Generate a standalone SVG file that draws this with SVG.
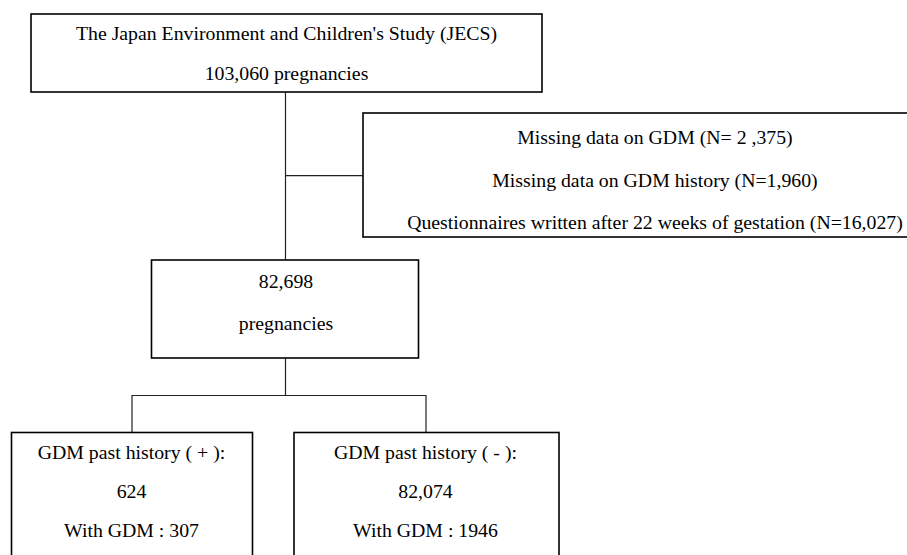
<svg xmlns="http://www.w3.org/2000/svg" width="907" height="555" viewBox="0 0 907 555">
<style>
.box{fill:#fff;stroke:#000;stroke-width:1.6}
.conn{fill:none;stroke:#222;stroke-width:1.2}
text{font-family:"Liberation Serif","Times New Roman","DejaVu Serif",serif;font-size:19.8px;fill:#000;text-anchor:middle}
</style>
<rect width="907" height="555" fill="#fff"/>
<g id="connectors">
<path class="conn" d="M285.5 92V260"/>
<path class="conn" d="M285.5 175.7H363"/>
<path class="conn" d="M285.5 358V395.5"/>
<path class="conn" d="M132 432V395.5H426V432"/>
</g>
<g font-family="Liberation Serif, Times New Roman, serif">
<g id="jecs">
<rect class="box" x="31" y="14" width="511" height="78"/>
<text x="286.5" y="40">The Japan Environment and Children's Study (JECS)</text>
<text x="286.5" y="80">103,060 pregnancies</text>
</g>
<g id="excluded">
<rect class="box" x="363" y="113" width="590" height="124"/>
<text x="655" y="144">Missing data on GDM (N= 2 ,375)</text>
<text x="655" y="187">Missing data on GDM history (N=1,960)</text>
<text x="655" y="229">Questionnaires written after 22 weeks of gestation (N=16,027)</text>
</g>
<g id="pregnancies">
<rect class="box" x="151.5" y="260" width="267" height="98"/>
<text x="286" y="288">82,698</text>
<text x="286" y="330">pregnancies</text>
</g>
<g id="history-positive">
<rect class="box" x="11.5" y="432.5" width="241" height="130"/>
<text x="131.5" y="459">GDM past history ( + ):</text>
<text x="131.5" y="498">624</text>
<text x="131.5" y="537">With GDM : 307</text>
</g>
<g id="history-negative">
<rect class="box" x="294" y="432.5" width="265" height="130"/>
<text x="425.5" y="459">GDM past history ( - ):</text>
<text x="425.5" y="498">82,074</text>
<text x="425.5" y="537">With GDM : 1946</text>
</g>
</g>
</svg>
